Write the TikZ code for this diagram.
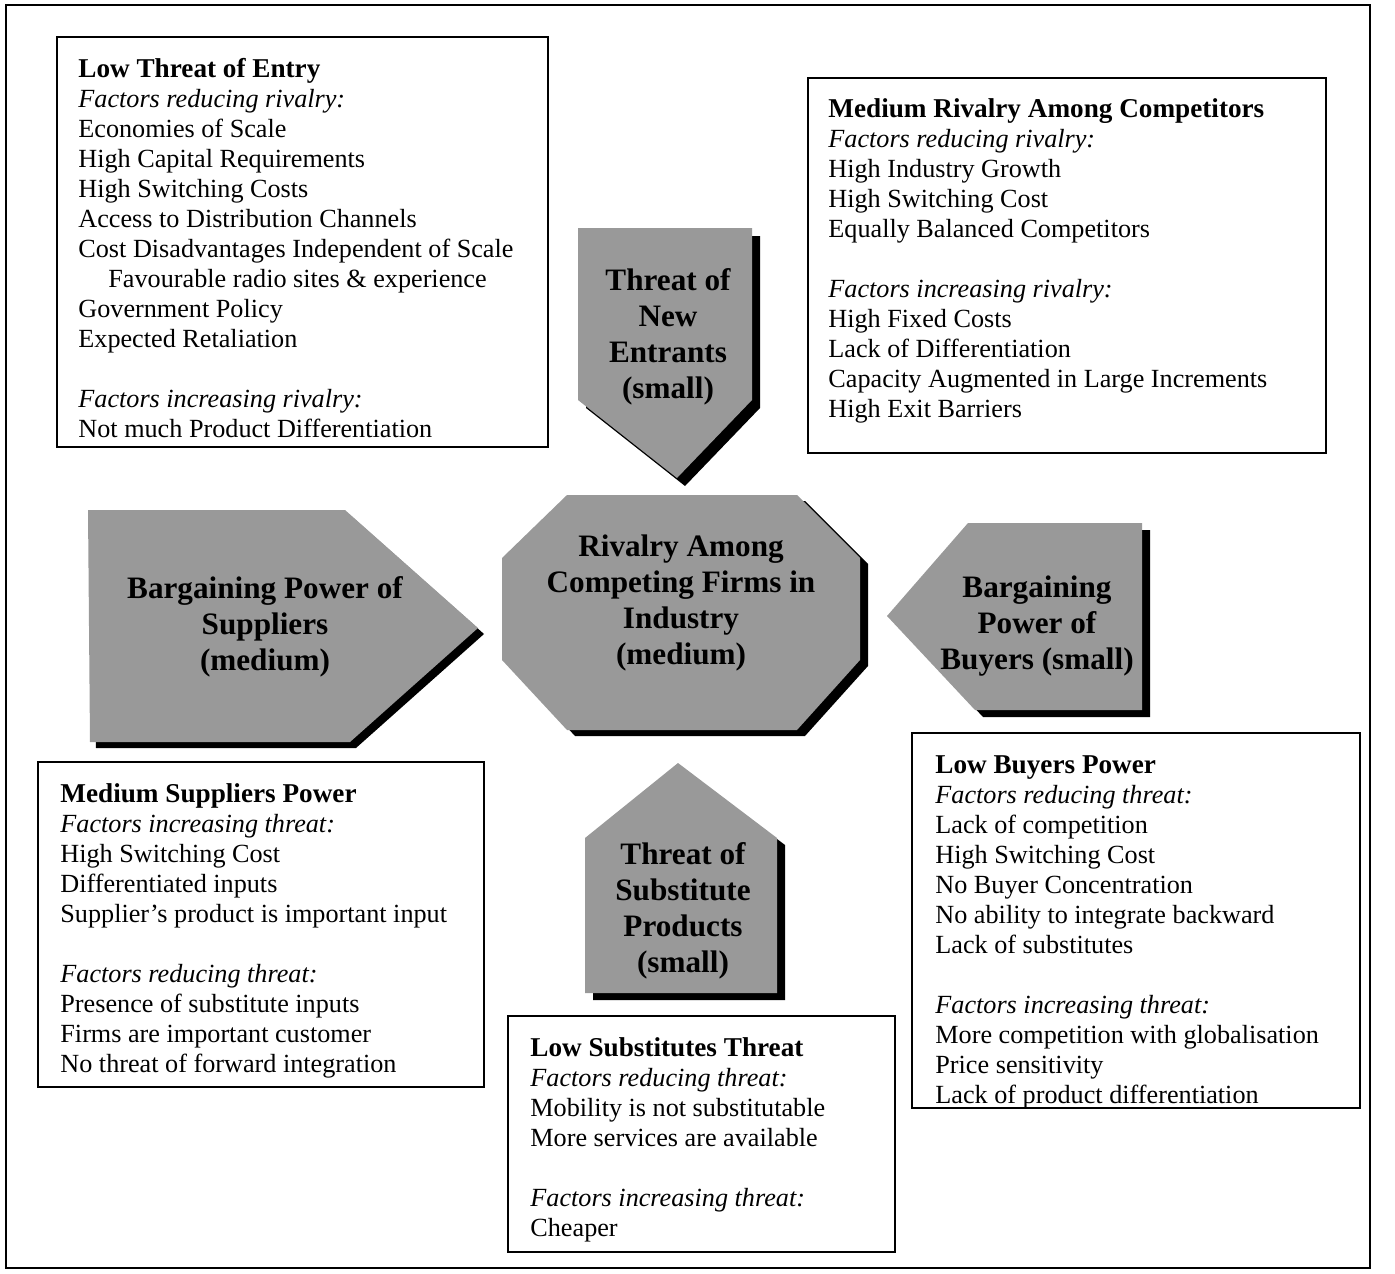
\documentclass[tikz,border=0pt]{standalone}
\usepackage{fontspec}
\setmainfont{Liberation Serif}
\usepackage{xcolor}
\usetikzlibrary{fit}

\definecolor{forcegray}{gray}{0.6}
\newcommand{\boxtitle}[1]{{\fontsize{13.6}{15}\selectfont\bfseries #1}}
\newcommand{\factors}[1]{\textit{#1}}

\begin{document}
\begin{tikzpicture}[
  x=0.5pt, y=-0.5pt,
  frame/.style={draw=black, line width=0.8pt},
  infobox/.style={rectangle, draw=black, line width=1pt, inner sep=0pt},
  infotext/.style={anchor=north west, inner sep=0pt, align=left,
    font=\fontsize{13.1}{15}\selectfont},
  forcelabel/.style={align=center, inner sep=0pt,
    font=\fontsize{15.6}{18}\selectfont\bfseries},
  forcefill/.style={fill=forcegray},
  forceshadow/.style={fill=black}
]
\useasboundingbox (0,0) rectangle (1395,1273);
\node[infobox, frame, fit={(6,5) (1370,1268)}] (outer) {};

% the five forces
\fill[forceshadow, shift={(8,8)}]
  (578,228) -- (752,228) -- (752,400) -- (677,478) -- (578,400) -- cycle;
\fill[forcefill]
  (578,228) -- (752,228) -- (752,400) -- (677,478) -- (578,400) -- cycle;
\node[forcelabel] (entrants) at (668,337) {Threat of\\New\\Entrants\\(small)};

\fill[forceshadow, shift={(8,6)}]
  (567,495) -- (797,495) -- (860,558) -- (860,660) -- (797,730)
  -- (567,730) -- (502,660) -- (502,558) -- cycle;
\fill[forcefill]
  (567,495) -- (797,495) -- (860,558) -- (860,660) -- (797,730)
  -- (567,730) -- (502,660) -- (502,558) -- cycle;
\node[forcelabel] (rivalry) at (681,603)
  {Rivalry Among\\Competing Firms in\\Industry\\(medium)};

\fill[forceshadow, shift={(6,6)}]
  (88,510) -- (345,510) -- (478,628) -- (350,742) -- (90,742) -- cycle;
\fill[forcefill]
  (88,510) -- (345,510) -- (478,628) -- (350,742) -- (90,742) -- cycle;
\node[forcelabel] (suppliers) at (265,627)
  {Bargaining Power of\\Suppliers\\(medium)};

\fill[forceshadow, shift={(8,7)}]
  (887,616) -- (968,523) -- (1142,523) -- (1142,710) -- (975,710) -- cycle;
\fill[forcefill]
  (887,616) -- (968,523) -- (1142,523) -- (1142,710) -- (975,710) -- cycle;
\node[forcelabel] (buyers) at (1037,626)
  {Bargaining\\Power of\\Buyers (small)};

\fill[forceshadow, shift={(8,7)}]
  (678,763) -- (777,838) -- (777,993) -- (585,993) -- (585,838) -- cycle;
\fill[forcefill]
  (678,763) -- (777,838) -- (777,993) -- (585,993) -- (585,838) -- cycle;
\node[forcelabel] (substitutes) at (683,911)
  {Threat of\\Substitute\\Products\\(small)};

% factor boxes
\node[infobox, fit={(57,37) (548,447)}] (entrybox) {};
\node[infotext] (entrytext) at (78,58) {%
  \boxtitle{Low Threat of Entry}\\
  \factors{Factors reducing rivalry:}\\
  Economies of Scale\\
  High Capital Requirements\\
  High Switching Costs\\
  Access to Distribution Channels\\
  Cost Disadvantages Independent of Scale\\
  \hspace*{15pt}Favourable radio sites \& experience\\
  Government Policy\\
  Expected Retaliation\\[15pt]
  \factors{Factors increasing rivalry:}\\
  Not much Product Differentiation};

\node[infobox, fit={(808,78) (1326,453)}] (rivalbox) {};
\node[infotext] (rivaltext) at (828,98) {%
  \boxtitle{Medium Rivalry Among Competitors}\\
  \factors{Factors reducing rivalry:}\\
  High Industry Growth\\
  High Switching Cost\\
  Equally Balanced Competitors\\[15pt]
  \factors{Factors increasing rivalry:}\\
  High Fixed Costs\\
  Lack of Differentiation\\
  Capacity Augmented in Large Increments\\
  High Exit Barriers};

\node[infobox, fit={(38,762) (484,1087)}] (supplybox) {};
\node[infotext] (supplytext) at (60,783) {%
  \boxtitle{Medium Suppliers Power}\\
  \factors{Factors increasing threat:}\\
  High Switching Cost\\
  Differentiated inputs\\
  Supplier's product is important input\\[15pt]
  \factors{Factors reducing threat:}\\
  Presence of substitute inputs\\
  Firms are important customer\\
  No threat of forward integration};

\node[infobox, fit={(912,733) (1360,1108)}] (buyerbox) {};
\node[infotext] (buyertext) at (935,755) {%
  \boxtitle{Low Buyers Power}\\
  \factors{Factors reducing threat:}\\
  Lack of competition\\
  High Switching Cost\\
  No Buyer Concentration\\
  No ability to integrate backward\\
  Lack of substitutes\\[15pt]
  \factors{Factors increasing threat:}\\
  More competition with globalisation\\
  Price sensitivity\\
  Lack of product differentiation};

\node[infobox, fit={(508,1016) (895,1252)}] (substbox) {};
\node[infotext] (substtext) at (530,1037) {%
  \boxtitle{Low Substitutes Threat}\\
  \factors{Factors reducing threat:}\\
  Mobility is not substitutable\\
  More services are available\\[15pt]
  \factors{Factors increasing threat:}\\
  Cheaper};

\end{tikzpicture}
\end{document}
